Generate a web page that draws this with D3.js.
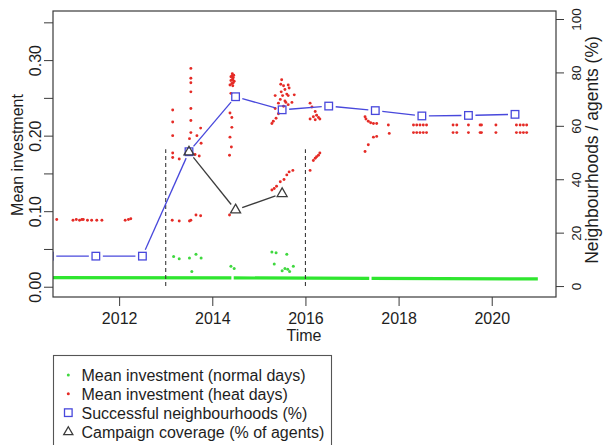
<!DOCTYPE html>
<html>
<head>
<meta charset="utf-8">
<script src="https://cdn.jsdelivr.net/npm/d3@7"></script>
<style>
  html, body { margin: 0; padding: 0; background: #ffffff; }
  svg { display: block; font-family: "Liberation Sans", Arial, sans-serif; }
</style>
</head>
<body>
<svg id="chart" width="603" height="445"></svg>
<script>
// ---- data ---------------------------------------------------------------

// Successful neighbourhoods (%), one value per mid-year
const neighbourhoodYears = [2010.5, 2011.5, 2012.5, 2013.5, 2014.5, 2015.5, 2016.5, 2017.5, 2018.5, 2019.5, 2020.5];
const neighbourhoodPct   = [11.2, 11.2, 11.2, 50.3, 70.9, 66.0, 67.4, 65.7, 63.7, 63.9, 64.3];

// Campaign coverage (% of agents)
const campaignYears = [2013.5, 2014.5, 2015.5];
const campaignPct   = [50.2, 28.5, 34.6];

// Start and end of the campaign period, and the height of its markers (%)
const campaignBounds = [2013.0, 2016.0];
const campaignMarkerTop = 51.2;

// Mean investment on normal days: the dense daily band (null = no normal days)
const normalBandYears  = [2010.45, 2014.41, 2014.43, 2014.46, 2017.37, 2017.39, 2017.42, 2020.99];
const normalBandValues = [0.0120, 0.0118, null, 0.0117, 0.0110, null, 0.0110, 0.0103];

// Mean investment on normal days that stand out above the band
const normalYears  = [2013.17, 2013.29, 2013.51, 2013.65, 2013.76, 2013.56, 2014.40, 2014.47,
                      2015.28, 2015.37, 2015.60, 2015.33, 2015.50, 2015.56, 2015.62, 2015.66, 2015.74];
const normalValues = [0.040, 0.037, 0.038, 0.043, 0.038, 0.020, 0.027, 0.024,
                      0.046, 0.045, 0.043, 0.030, 0.021, 0.024, 0.023, 0.020, 0.027];

// Mean investment on heat days
const heatYears = [
  // 2010 - 2012
  2010.66, 2011.01, 2011.08, 2011.15, 2011.20, 2011.23, 2011.32, 2011.41, 2011.52, 2011.63, 2012.13, 2012.20, 2012.25,
  // 2013
  2013.15, 2013.15, 2013.15, 2013.15, 2013.15, 2013.14, 2013.29, 2013.29,
  2013.54, 2013.54, 2013.54, 2013.54, 2013.54, 2013.54, 2013.54, 2013.51, 2013.51, 2013.54,
  2013.63, 2013.65, 2013.67, 2013.72, 2013.75, 2013.76, 2013.75,
  // 2014
  2014.42, 2014.45, 2014.44, 2014.40, 2014.47, 2014.42, 2014.45, 2014.38, 2014.43, 2014.43, 2014.46, 2014.40, 2014.44,
  2014.40, 2014.38, 2014.42, 2014.42, 2014.38, 2014.41, 2014.37, 2014.37,
  // 2015
  2015.49, 2015.47, 2015.53, 2015.63, 2015.65, 2015.56, 2015.48, 2015.60, 2015.35, 2015.51, 2015.63, 2015.76,
  2015.46, 2015.56, 2015.42, 2015.58, 2015.71, 2015.53, 2015.35, 2015.63, 2015.42, 2015.37, 2015.31, 2015.28,
  2015.28, 2015.33, 2015.38, 2015.46, 2015.54, 2015.60, 2015.65, 2015.73,
  // 2016
  2016.10, 2016.14, 2016.21, 2016.24, 2016.28, 2016.17, 2016.10, 2016.21, 2016.31,
  2016.10, 2016.17, 2016.21, 2016.24, 2016.28, 2016.31,
  // 2017
  2017.28, 2017.30, 2017.35, 2017.40, 2017.46, 2017.53, 2017.78, 2017.80, 2017.53, 2017.46, 2017.35, 2017.28,
  // 2018 - 2020
  2018.32, 2018.39, 2018.46, 2018.53, 2018.60, 2018.32, 2018.39, 2018.46, 2018.53, 2018.60,
  2019.17, 2019.25, 2019.17, 2019.25, 2019.50, 2019.50, 2019.75, 2019.78, 2019.75, 2019.78,
  2020.09, 2020.09, 2020.53, 2020.61, 2020.68, 2020.75, 2020.53, 2020.61, 2020.68, 2020.75
];
const heatValues = [
  0.089, 0.088, 0.089, 0.088, 0.089, 0.089, 0.088, 0.088, 0.088, 0.088, 0.088, 0.089, 0.090,
  0.234, 0.218, 0.200, 0.177, 0.171, 0.088, 0.169, 0.087,
  0.289, 0.276, 0.270, 0.258, 0.236, 0.220, 0.204, 0.196, 0.087, 0.088,
  0.175, 0.095, 0.200, 0.173, 0.210, 0.190, 0.094,
  0.279, 0.277, 0.275, 0.273, 0.272, 0.269, 0.270, 0.267, 0.282, 0.274, 0.280, 0.278, 0.266,
  0.256, 0.230, 0.224, 0.211, 0.198, 0.185, 0.174, 0.095,
  0.274, 0.268, 0.266, 0.267, 0.263, 0.261, 0.258, 0.255, 0.253, 0.253, 0.253, 0.254,
  0.248, 0.246, 0.243, 0.244, 0.244, 0.239, 0.236, 0.241, 0.229, 0.223, 0.219, 0.216,
  0.128, 0.130, 0.133, 0.139, 0.142, 0.148, 0.152, 0.154,
  0.243, 0.238, 0.232, 0.227, 0.224, 0.225, 0.222, 0.221, 0.222,
  0.154, 0.167, 0.170, 0.172, 0.174, 0.177,
  0.225, 0.222, 0.219, 0.217, 0.216, 0.216, 0.214, 0.203, 0.199, 0.198, 0.188, 0.179,
  0.214, 0.214, 0.214, 0.214, 0.214, 0.204, 0.204, 0.204, 0.204, 0.204,
  0.214, 0.214, 0.204, 0.204, 0.214, 0.204, 0.214, 0.214, 0.204, 0.204,
  0.214, 0.204, 0.214, 0.214, 0.214, 0.214, 0.204, 0.204, 0.204, 0.204
];

// Axis ticks
const xTicks     = [2012, 2014, 2016, 2018, 2020];
const leftTicks  = [0, 0.05, 0.10, 0.15, 0.20, 0.25, 0.30, 0.35];
const leftLabels = [0, 0.10, 0.20, 0.30];
const rightTicks = [0, 20, 40, 60, 80, 100];

// Titles and legend entries
const xTitle = "Time";
const leftTitle = "Mean investment";
const rightTitle = "Neighbourhoods / agents (%)";
const legendLabels = [
  "Mean investment (normal days)",
  "Mean investment (heat days)",
  "Successful neighbourhoods (%)",
  "Campaign coverage (% of agents)"
];

// ---- layout -------------------------------------------------------------
const plot = { left: 53, top: 11, right: 556, bottom: 297 };
const colors = {
  axis: "#3a3a3a", text: "#1e1e1e",
  normal: "#2fe62f", normalDot: "#3fd83f",
  heat: "#e52b26", blue: "#4848dc", campaign: "#3c3c3c", dash: "#3a3a3a"
};

const svg = d3.select("#chart");

const x  = d3.scaleLinear().domain([2010.58, 2021.38]).range([plot.left, plot.right]);
const yL = d3.scaleLinear().domain([-0.0136, 0.365]).range([plot.bottom, plot.top]);
const yR = d3.scaleLinear().domain([-4.1, 103]).range([plot.bottom, plot.top]);

svg.append("defs").append("clipPath").attr("id", "plot-clip")
  .append("rect")
  .attr("x", plot.left).attr("y", plot.top)
  .attr("width", plot.right - plot.left).attr("height", plot.bottom - plot.top);

const area = svg.append("g").attr("clip-path", "url(#plot-clip)");

// Normal-day band
const band = normalBandYears.map((t, i) => [t, normalBandValues[i]]);
area.append("path")
  .datum(band)
  .attr("fill", "none")
  .attr("stroke", colors.normal)
  .attr("stroke-width", 3.2)
  .attr("d", d3.line().defined(d => d[1] !== null).x(d => x(d[0])).y(d => yL(d[1])));

// Normal-day outliers
area.append("g").selectAll("circle")
  .data(normalYears.map((t, i) => [t, normalValues[i]]))
  .join("circle")
  .attr("cx", d => x(d[0])).attr("cy", d => yL(d[1]))
  .attr("r", 1.5).attr("fill", colors.normalDot);

// Heat-day points
area.append("g").selectAll("circle")
  .data(heatYears.map((t, i) => [t, heatValues[i]]))
  .join("circle")
  .attr("cx", d => x(d[0])).attr("cy", d => yL(d[1]))
  .attr("r", 1.45).attr("fill", colors.heat);

// Campaign period markers
area.append("g").selectAll("line")
  .data(campaignBounds)
  .join("line")
  .attr("x1", d => x(d)).attr("x2", d => x(d))
  .attr("y1", yR(0)).attr("y2", yR(campaignMarkerTop))
  .attr("stroke", colors.dash).attr("stroke-width", 1.1)
  .attr("stroke-dasharray", "4,3");

// Line segments with gaps around each marker ("both" style)
function gappedSegments(points, gap) {
  const segs = [];
  for (let i = 0; i < points.length - 1; i++) {
    const [x0, y0] = points[i], [x1, y1] = points[i + 1];
    const dx = x1 - x0, dy = y1 - y0, L = Math.hypot(dx, dy);
    if (L <= 2 * gap) continue;
    const ux = dx / L, uy = dy / L;
    segs.push([x0 + ux * gap, y0 + uy * gap, x1 - ux * gap, y1 - uy * gap]);
  }
  return segs;
}

// Successful neighbourhoods
const nbPts = neighbourhoodYears.map((t, i) => [x(t), yR(neighbourhoodPct[i])]);
area.append("g").selectAll("line")
  .data(gappedSegments(nbPts, 7))
  .join("line")
  .attr("x1", d => d[0]).attr("y1", d => d[1]).attr("x2", d => d[2]).attr("y2", d => d[3])
  .attr("stroke", colors.blue).attr("stroke-width", 1.3);
const sq = 7.6;
area.append("g").selectAll("rect")
  .data(nbPts)
  .join("rect")
  .attr("x", d => d[0] - sq / 2).attr("y", d => d[1] - sq / 2)
  .attr("width", sq).attr("height", sq)
  .attr("fill", "none").attr("stroke", colors.blue).attr("stroke-width", 1.3);

// Campaign coverage
function trianglePath(cx, cy, s) {
  const r = 1.555 * s, xc = 1.347 * s, yc = 0.778 * s;
  return `M${cx},${cy - r}L${cx + xc},${cy + yc}L${cx - xc},${cy + yc}Z`;
}
const cpPts = campaignYears.map((t, i) => [x(t), yR(campaignPct[i])]);
area.append("g").selectAll("line")
  .data(gappedSegments(cpPts, 7))
  .join("line")
  .attr("x1", d => d[0]).attr("y1", d => d[1]).attr("x2", d => d[2]).attr("y2", d => d[3])
  .attr("stroke", colors.campaign).attr("stroke-width", 1.3);
area.append("g").selectAll("path")
  .data(cpPts)
  .join("path")
  .attr("d", d => trianglePath(d[0], d[1], 3.7))
  .attr("fill", "none").attr("stroke", colors.campaign).attr("stroke-width", 1.3);

// ---- axes ---------------------------------------------------------------
function styleAxis(g, size) {
  g.select(".domain").remove();
  g.selectAll(".tick line").attr("stroke", colors.axis).attr("stroke-width", 1);
  g.selectAll(".tick text").attr("fill", colors.text).style("font-size", size + "px")
    .style("font-family", '"Liberation Sans", Arial, sans-serif');
}

const gx = svg.append("g").attr("transform", `translate(0,${plot.bottom})`)
  .call(d3.axisBottom(x).tickValues(xTicks).tickFormat(d3.format("d")).tickSize(9).tickPadding(5));
styleAxis(gx, 16);
gx.selectAll(".tick text").attr("y", 0).attr("dy", 0).attr("transform", "translate(0,27)");

const gl = svg.append("g").attr("transform", `translate(${plot.left},0)`)
  .call(d3.axisLeft(yL).tickValues(leftTicks).tickSize(9)
    .tickFormat(d => leftLabels.some(v => Math.abs(v - d) < 1e-9) ? d3.format(".2f")(d) : ""));
styleAxis(gl, 16);
gl.selectAll(".tick text")
  .attr("x", 0).attr("dy", 0)
  .attr("text-anchor", "middle")
  .attr("transform", "translate(-12.5,0) rotate(-90)");

const gr = svg.append("g").attr("transform", `translate(${plot.right},0)`)
  .call(d3.axisRight(yR).tickValues(rightTicks).tickSize(8));
styleAxis(gr, 13.5);
gr.selectAll(".tick text")
  .attr("x", 0).attr("dy", 0)
  .attr("text-anchor", "middle")
  .attr("transform", "translate(25,0) rotate(-90)");

// Plot frame
svg.append("rect")
  .attr("x", plot.left).attr("y", plot.top)
  .attr("width", plot.right - plot.left).attr("height", plot.bottom - plot.top)
  .attr("fill", "none").attr("stroke", colors.axis).attr("stroke-width", 1.2);

// Axis titles
svg.append("text")
  .attr("x", (plot.left + plot.right) / 2 - 0.5).attr("y", 341)
  .attr("text-anchor", "middle").attr("fill", colors.text)
  .style("font-size", "16px").text(xTitle);

svg.append("text")
  .attr("transform", `translate(23,${(plot.top + plot.bottom) / 2 + 1}) rotate(-90)`)
  .attr("text-anchor", "middle").attr("fill", colors.text)
  .style("font-size", "16px").text(leftTitle);

svg.append("text")
  .attr("transform", `translate(598,${(plot.top + plot.bottom) / 2 - 4}) rotate(-90)`)
  .attr("text-anchor", "middle").attr("fill", colors.text)
  .style("font-size", "17.5px").text(rightTitle);

// ---- legend -------------------------------------------------------------
const legend = svg.append("g");
legend.append("rect")
  .attr("x", 53.5).attr("y", 355.5).attr("width", 278).attr("height", 120)
  .attr("fill", "#ffffff").attr("stroke", "#555555").attr("stroke-width", 1.1);

const rowY = d3.scalePoint().domain(d3.range(legendLabels.length)).range([375, 431.5]);
const symX = 68.3;
legendLabels.forEach((label, i) => {
  const cy = rowY(i);
  if (i === 0) {
    legend.append("circle").attr("cx", symX).attr("cy", cy).attr("r", 1.5).attr("fill", colors.normalDot);
  } else if (i === 1) {
    legend.append("circle").attr("cx", symX).attr("cy", cy).attr("r", 1.5).attr("fill", colors.heat);
  } else if (i === 2) {
    legend.append("rect").attr("x", symX - sq / 2).attr("y", cy - sq / 2)
      .attr("width", sq).attr("height", sq)
      .attr("fill", "none").attr("stroke", colors.blue).attr("stroke-width", 1.3);
  } else {
    legend.append("path").attr("d", trianglePath(symX, cy + 0.5, 3.4))
      .attr("fill", "none").attr("stroke", colors.campaign).attr("stroke-width", 1.3);
  }
  legend.append("text")
    .attr("x", 81.5).attr("y", cy + 6)
    .attr("fill", colors.text).style("font-size", "16px")
    .text(label);
});
</script>
</body>
</html>
